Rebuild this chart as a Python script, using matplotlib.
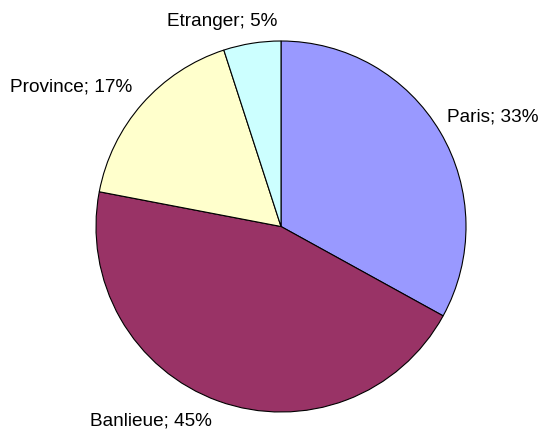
import matplotlib.pyplot as plt

plt.rcParams['font.family'] = ['Liberation Sans', 'DejaVu Sans']

labels = ["Paris", "Banlieue", "Province", "Etranger"]
shares = [33, 45, 17, 5]
colors = ["#9999FF", "#993366", "#FFFFCC", "#CCFFFF"]

# where the labels sit (data coords, left edge / vertical centre)
label_pos = [(0.897, 0.592), (-1.032, -1.051), (-1.465, 0.754), (-0.616, 1.105)]

fig = plt.figure(figsize=(5.41, 4.30), dpi=100)
ax = fig.add_axes([96 / 541, 18 / 430, 370 / 541, 371 / 430])

wedges, texts = ax.pie(shares, labels=[f"{l}; {s}%" for l, s in zip(labels, shares)],
                       colors=colors, startangle=90, counterclock=False,
                       wedgeprops=dict(edgecolor="black", linewidth=0.8),
                       textprops=dict(fontsize=13.7, color="black"))

for t, (x, y) in zip(texts, label_pos):
    t.set_position((x, y))
    t.set_ha("left")
    t.set_va("center")

ax.set_xlim(-1, 1)
ax.set_ylim(-1, 1)
ax.set_aspect("auto")
ax.axis("off")

fig.savefig("out.png", dpi=100)
